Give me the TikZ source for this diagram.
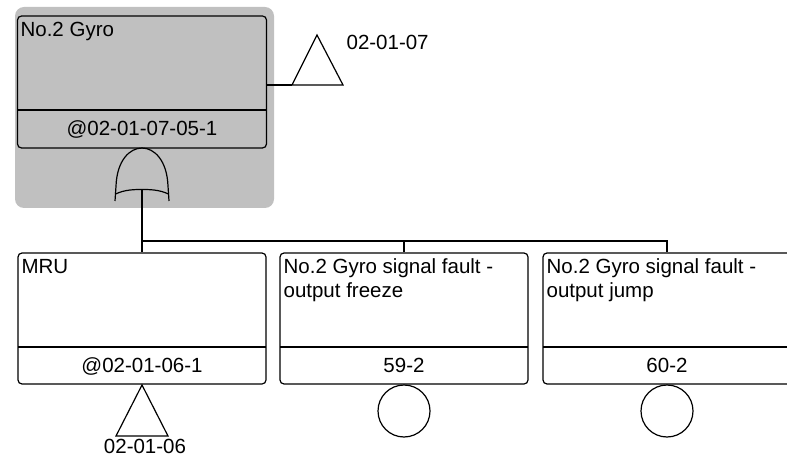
\documentclass[tikz,border=0pt]{standalone}
\usepackage{fontspec}
\setmainfont{Liberation Sans}
\definecolor{bggray}{RGB}{192,192,192}
\begin{document}
\begin{tikzpicture}[x=1pt,y=-1pt, line width=1.2pt,
  evbox/.style={draw, rounded corners=4pt, minimum width=248pt, minimum height=131pt, inner sep=0pt},
  lab/.style={font=\fontsize{20.5}{24}\selectfont, inner sep=0pt, align=left},
  basic/.style={draw, circle, minimum size=52pt, inner sep=0pt}
]
\useasboundingbox (0,0) rectangle (787,465);
\clip (0,0) rectangle (787,465);
% grey highlight of top event
\node[fill=bggray, rounded corners=9pt, minimum width=259pt, minimum height=201pt, inner sep=0pt] (bg) at (144.5,107.5) {};
% top event
\node[evbox, minimum width=249pt, minimum height=132pt] (top) at (142,82) {};
\draw (17.5,110) -- (266.5,110);
\node[lab, anchor=base west] (toptxt) at (20,37) {No.2 Gyro};
\node[lab, anchor=base] (topid) at (142,136) {@02-01-07-05-1};
% transfer triangle (top)
\coordinate (ta) at (317,35);
\coordinate (tl) at (292,85);
\coordinate (tr) at (343,85);
\draw[line join=miter] (ta) -- (tr) -- (tl) -- cycle;
\draw (top.east |- tl) -- (tl);
\node[lab, anchor=base west] (tlab) at (346,50) {02-01-07};
% OR gate
\draw (115,201) -- (116,186) .. controls (117,160) and (130,148) .. (142,148) .. controls (154,148) and (167,160) .. (168,186) -- (169,201);
\draw (115.5,194) .. controls (125,189.5) and (135,189.5) .. (142,189.5) .. controls (149,189.5) and (159,189.5) .. (168.5,194);
\coordinate (gate) at (142,189.5);
\coordinate (j) at (142,241);
% child events
\node[evbox] (b1) at (142,318.5) {};
\node[evbox] (b2) at (404,318.5) {};
\node[evbox] (b3) at (667,318.5) {};
\draw (18,347) -- (266,347);
\draw (280,347) -- (528,347);
\draw (543,347) -- (791,347);
\node[lab, anchor=base west] (t1) at (21,273) {MRU};
\node[lab, anchor=base west] (t2) at (283,297) {No.2 Gyro signal fault -\\output freeze};
\node[lab, anchor=base west] (t3) at (546,297) {No.2 Gyro signal fault -\\output jump};
\node[lab, anchor=base] (id1) at (142,372) {@02-01-06-1};
\node[lab, anchor=base] (id2) at (404,372) {59-2};
\node[lab, anchor=base] (id3) at (667,372) {60-2};
% connectors
\draw (gate) -- (j) -- (b1.north);
\draw (j) -| (b2.north);
\draw (j) -| (b3.north);
% transfer triangle (bottom)
\coordinate (ba) at (142,385);
\coordinate (bl) at (116,436);
\coordinate (br) at (168,436);
\draw[line join=miter] (ba) -- (br) -- (bl) -- cycle;
\node[lab, anchor=base] (blab) at (145,453) {02-01-06};
% basic events
\node[basic] (c2) at (404,411) {};
\node[basic] (c3) at (667,411) {};
\end{tikzpicture}
\end{document}
